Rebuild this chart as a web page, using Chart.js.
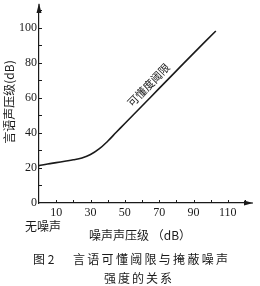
<!DOCTYPE html>
<html>
<head>
<meta charset="utf-8">
<style>
html,body{margin:0;padding:0;background:#fff;}
#wrap{width:260px;height:286px;position:relative;}
</style>
<script src="https://cdn.jsdelivr.net/npm/chart.js@4/dist/chart.umd.min.js"></script>
</head>
<body>
<div id="wrap"><canvas id="c" width="260" height="286"></canvas></div>
<script>
// Data
const noiseLevel  = [0, 5, 10, 15, 20, 25, 30, 35, 40, 45, 50, 60, 70, 80, 90, 103];
const speechLevel = [21.3, 22.2, 23, 23.8, 24.6, 25.7, 27.6, 30.8, 35.2, 40.3, 45.3, 55.3, 65.3, 75.3, 85.3, 98];
const xTickLabels = [10, 30, 50, 70, 90, 110];
const yTickLabels = [0, 20, 40, 60, 80, 100];

const yTitle = '言语声压级(dB)';
const xTitle = '噪声声压级 （dB）';
const noNoiseLabel = '无噪声';
const curveLabel = '可懂度阈限';
const captionNum = '图 2';
const captionLine1 = '言语可懂阈限与掩蔽噪声';
const captionLine2 = '强度的关系';

const INK = '#1a1a1a';
const CJK = '"Noto Sans CJK SC", "Noto Sans", sans-serif';

const points = noiseLevel.map((x, i) => ({x, y: speechLevel[i]}));

const decor = {
  id: 'decor',
  afterDraw(chart) {
    const ctx = chart.ctx;
    const xs = chart.scales.x, ys = chart.scales.y;
    const x0 = xs.getPixelForValue(0), y0 = ys.getPixelForValue(0);
    const xEnd = xs.right, yTop = ys.top;
    ctx.save();
    ctx.strokeStyle = INK; ctx.fillStyle = INK; ctx.lineWidth = 1;
    // tick marks (inside)
    xs.ticks.forEach(t => {
      if (t.value === 0) return;
      const p = Math.round(xs.getPixelForValue(t.value)) + 0.5;
      ctx.beginPath(); ctx.moveTo(p, y0); ctx.lineTo(p, y0 - 3); ctx.stroke();
    });
    ys.ticks.forEach(t => {
      if (t.value === 0) return;
      const p = Math.round(ys.getPixelForValue(t.value)) + 0.5;
      ctx.beginPath(); ctx.moveTo(x0, p); ctx.lineTo(x0 + 3, p); ctx.stroke();
    });
    // axis arrows
    ctx.beginPath();
    ctx.moveTo(xEnd, y0); ctx.lineTo(xEnd + 8, y0); ctx.stroke();
    ctx.beginPath();
    ctx.moveTo(xEnd + 8, y0); ctx.lineTo(xEnd - 1, y0 - 2.5); ctx.lineTo(xEnd - 1, y0 + 2.5); ctx.closePath(); ctx.fill();
    ctx.beginPath();
    ctx.moveTo(x0, yTop); ctx.lineTo(x0, yTop - 6); ctx.stroke();
    ctx.beginPath();
    ctx.moveTo(x0, yTop - 7); ctx.lineTo(x0 - 2.5, yTop + 3); ctx.lineTo(x0 + 2.5, yTop + 3); ctx.closePath(); ctx.fill();

    // texts
    ctx.textBaseline = 'middle';
    ctx.font = '12px ' + CJK;
    ctx.textAlign = 'left';
    ctx.fillText(noNoiseLabel, 25, 226);
    ctx.fillText(xTitle, 89, 235);
    ctx.fillText(captionNum, 33, 259);
    try { ctx.letterSpacing = '2.3px'; } catch(e) {}
    ctx.fillText(captionLine1, 73, 259);
    ctx.textAlign = 'center';
    try { ctx.letterSpacing = '2px'; } catch(e) {}
    ctx.fillText(captionLine2, 139, 278);
    try { ctx.letterSpacing = '0px'; } catch(e) {}

    // y title
    ctx.save();
    ctx.translate(9, 102);
    ctx.rotate(-Math.PI / 2);
    ctx.textAlign = 'center';
    ctx.font = '12px ' + CJK;
    ctx.fillText(yTitle, 0, 0);
    ctx.restore();

    // curve label along the straight part
    const ax = xs.getPixelForValue(noiseLevel[11]), ay = ys.getPixelForValue(speechLevel[11]);
    const bx = xs.getPixelForValue(noiseLevel[13]), by = ys.getPixelForValue(speechLevel[13]);
    const ang = Math.atan2(by - ay, bx - ax);
    const t = (68 - noiseLevel[11]) / (noiseLevel[13] - noiseLevel[11]);
    const cx = ax + (bx - ax) * t, cy = ay + (by - ay) * t;
    const off = 10;
    ctx.save();
    ctx.translate(cx + Math.sin(ang) * off, cy - Math.cos(ang) * off);
    ctx.rotate(ang);
    ctx.textAlign = 'center';
    ctx.font = '11px ' + CJK;
    ctx.fillText(curveLabel, 0, 0);
    ctx.restore();
    ctx.restore();
  }
};

new Chart(document.getElementById('c'), {
  type: 'scatter',
  data: {
    datasets: [{
      data: points,
      showLine: true,
      borderColor: INK,
      borderWidth: 1.6,
      pointRadius: 0,
      tension: 0.4,
      fill: false
    }]
  },
  options: {
    responsive: false,
    animation: false,
    devicePixelRatio: 1,
    layout: { padding: { left: 0, top: 10, right: 15, bottom: 67 } },
    plugins: { legend: { display: false }, tooltip: { enabled: false }, title: { display: false } },
    scales: {
      x: {
        type: 'linear', min: 0, max: 120,
        grid: { display: false, drawTicks: false },
        border: { display: true, color: INK, width: 1.2 },
        ticks: {
          stepSize: 10, padding: 3, maxRotation: 0, autoSkip: false,
          color: INK, font: { family: '"Liberation Serif", serif', size: 12 },
          callback: v => xTickLabels.includes(v) ? String(v) : ''
        },
        afterFit: s => { s.height = 16; }
      },
      y: {
        type: 'linear', min: 0, max: 110,
        grid: { display: false, drawTicks: false },
        border: { display: true, color: INK, width: 1.2 },
        ticks: {
          stepSize: 10, padding: 2, autoSkip: false,
          color: INK, font: { family: '"Liberation Serif", serif', size: 12 },
          callback: v => yTickLabels.includes(v) ? String(v) : ''
        },
        afterFit: s => { s.width = 39; }
      }
    }
  },
  plugins: [decor]
});
</script>
</body>
</html>
